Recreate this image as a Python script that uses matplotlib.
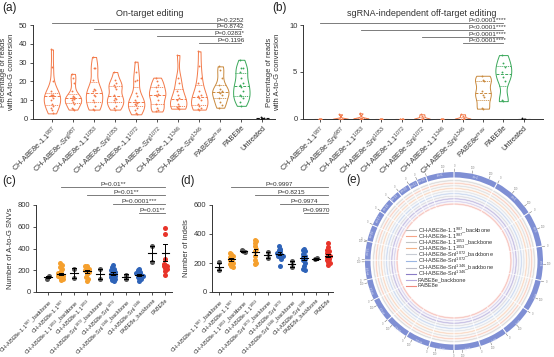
import numpy as np
import matplotlib
matplotlib.use("Agg")
import matplotlib.pyplot as plt

plt.rcParams['font.family'] = 'Liberation Sans'
plt.rcParams['mathtext.fontset'] = 'custom'
plt.rcParams['mathtext.rm'] = 'Liberation Sans'
plt.rcParams['mathtext.it'] = 'Liberation Sans:italic'
plt.rcParams['axes.linewidth'] = 0.7

############# DATA ###############

# panel a / b  (violins)
ab_labels = ['CH-ABE8e-1.1$^{987}$', 'CH-ABE8e-SnI$^{987}$', 'CH-ABE8e-1.1$^{1053}$', 'CH-ABE8e-SnI$^{1053}$',
             'CH-ABE8e-1.1$^{1072}$', 'CH-ABE8e-SnI$^{1072}$', 'CH-ABE8e-1.1$^{1346}$', 'CH-ABE8e-SnI$^{1346}$',
             'PABE8e$^{max}$', 'PABE8e', 'Untreated']

on_target = [
    [37, 27.5, 20, 15, 13, 13, 12.5, 12, 11, 10, 8, 7, 6, 5, 3],
    [24, 22, 19, 15, 12, 11.5, 11, 11, 10.5, 10, 9, 8, 6, 5.5, 5],
    [33, 27, 27, 21, 16, 15.5, 15, 13, 12, 10, 9, 7, 5.5, 5],
    [25, 21, 19, 18, 17, 16, 13, 11, 10.5, 10, 9, 7, 6, 5],
    [30.5, 25, 21, 20, 14, 12, 10, 9, 8.5, 8, 7.5, 6, 5, 3, 2.5],
    [22, 20, 18, 17, 15, 13.5, 13, 12, 10, 8, 6, 5, 4],
    [34, 22, 19, 15, 13, 11, 10, 8, 7, 6.5, 6, 5.5],
    [36, 28, 22, 19, 15, 13, 12, 11, 10, 8, 7, 6, 5.5, 5],
    [28, 26, 22, 18, 16, 15, 14.5, 14, 13, 11, 9, 7.5, 6],
    [31.5, 27, 27, 25, 22, 19, 18, 17, 15, 13, 12, 11, 9, 7],
    [0.8, 0.5, 0.3, 0.2, 0.1],
]

off_target = [
    [0, 0, 0, 0, 0, 0],
    [0.5, 0, 0, 0, 0, 0],
    [0.6, 0.1, 0, 0, 0, 0],
    [0, 0, 0, 0, 0, 0],
    [0, 0, 0, 0, 0, 0],
    [0.5, 0.3, 0.1, 0, 0, 0],
    [0, 0, 0, 0, 0, 0],
    [0.5, 0.3, 0.1, 0, 0, 0],
    [4.6, 4.2, 4.0, 3.0, 2.6, 2.3, 1.2, 1.1],
    [6.8, 6.0, 5.5, 5.0, 4.5, 4.0, 2.0, 1.9],
    [0.1, 0.05, 0, 0],
]

a_pvals = ['P=0.2252', 'P=0.8742', 'P=0.0283*', 'P=0.1196']
a_pstart = [0, 2, 5, 7]
a_plevel = [51, 47.9, 44.1, 40.4]

b_pvals = ['P<0.0001****'] * 4
b_pstart = [0, 2, 5, 7]
b_plevel = [10.2, 9.47, 8.72, 8.09]

# panel c / d  (dot plots)
cd_labels = ['CH-ABE8e-1.1$^{987}$_backbone', 'CH-ABE8e-1.1$^{987}$', 'CH-ABE8e-1.1$^{1053}$_backbone',
             'CH-ABE8e-1.1$^{1053}$', 'CH-ABE8e-SnI$^{1072}$_backbone', 'CH-ABE8e-SnI$^{1072}$',
             'CH-ABE8e-SnI$^{1346}$_backbone', 'CH-ABE8e-SnI$^{1346}$', 'PABE8e_backbone', 'PABE8e']

snv = [
    [123, 145],
    [265, 250, 230, 210, 190, 175, 165, 155, 150, 145, 140, 130, 120, 110],
    [215, 130],
    [240, 235, 225, 215, 200, 190, 180, 170, 140, 120, 100],
    [210, 120],
    [250, 230, 210, 200, 190, 180, 170, 160, 150, 140, 130, 120, 110, 100],
    [160, 115],
    [210, 200, 185, 175, 165, 160, 155, 150, 140, 130, 120, 100],
    [425, 280],
    [590, 535, 300, 260, 250, 240, 235, 225, 210, 190, 160],
]
snv_mean = [135, 165, 175, 190, 165, 170, 140, 155, 355, 362]
snv_sem = [10, 12, 42, 13, 45, 12, 22, 9, 72, 75]

indels = [
    [155, 208],
    [270, 260, 250, 240, 230, 220, 210, 200, 190, 180, 175],
    [290, 285, 275],
    [360, 350, 340, 320, 300, 280, 250, 220, 200, 190],
    [275, 235],
    [320, 300, 290, 280, 270, 265, 260, 255, 250, 245, 240, 230, 180],
    [215, 175],
    [300, 290, 280, 260, 250, 240, 230, 220, 200, 180, 160, 150],
    [225, 232],
    [335, 310, 290, 280, 270, 260, 250, 240, 230, 220, 210, 200, 185],
]
indel_mean = [175, 225, 280, 275, 255, 265, 195, 235, 228, 250]
indel_sem = [25, 10, 5, 20, 20, 10, 20, 13, 4, 12]

c_pvals = ['P=0.01**', 'P=0.01**', 'P=0.0001***', 'P=0.01**']
d_pvals = ['P=0.9997', 'P=0.8215', 'P=0.9974', 'P=0.9970']
cd_pstart = [1, 3, 5, 7]
c_plevel = [966, 892, 809, 726]
d_plevel = [724, 669, 607, 545]

# panel e  (circos)
chrom_names = ['chr1', 'chr2', 'chr3', 'chr4', 'chr5', 'chr6', 'chr7', 'chr8', 'chr9', 'chr10', 'chr11', 'chr12',
               'chr13', 'chr14', 'chr15', 'chr16', 'chr17', 'chr18', 'chr19', 'chr20', 'chr21', 'chr22', 'chrX']
chrom_sizes = [249, 242, 198, 190, 181, 171, 159, 145, 138, 134, 135, 133,
               114, 107, 102, 90, 83, 80, 59, 64, 47, 51, 156]
track_names = ['CH-ABE8e-1.1$^{987}$_backbone', 'CH-ABE8e-1.1$^{987}$', 'CH-ABE8e-1.1$^{1053}$_backbone',
               'CH-ABE8e-1.1$^{1053}$', 'CH-ABE8e-SnI$^{1072}$_backbone', 'CH-ABE8e-SnI$^{1072}$',
               'CH-ABE8e-SnI$^{1346}$_backbone', 'CH-ABE8e-SnI$^{1346}$', 'PABE8e_backbone', 'PABE8e']
track_colors = ['#b9b9b9', '#f5a488', '#c4c4c4', '#f3b48a', '#c8ccd4', '#9bb6e2',
                '#bcbcc8', '#8a7cc6', '#b4a8dc', '#f08a7e']

############# STYLE ###############

W, H = 554, 357
txt = '#333333'
c_orange_a = '#f37a4a'
c_max = '#c98a3e'
c_green = '#3aa85a'
violin_cols = [c_orange_a] * 8 + [c_max, c_green, '#111111']
dot_cols = ['#555555', '#f5a02e', '#555555', '#f5a02e', '#555555', '#2e63b8',
            '#555555', '#2e63b8', '#555555', '#e8342a']


def px_axes(l, t, r, b):
    return [l / W, 1 - b / H, (r - l) / W, (b - t) / H]


def style_axes(ax):
    for s in ['top', 'right']:
        ax.spines[s].set_visible(False)
    for s in ['left', 'bottom']:
        ax.spines[s].set_color(txt)
    ax.tick_params(length=2.5, width=0.6, colors=txt, labelsize=5.5, pad=1.5)


def violins(ax, data, cols):
    pos = np.arange(len(data))
    for i, d in enumerate(data):
        d = np.asarray(d, float)
        col = cols[i]
        if d.std() > 0.05 * (ax.get_ylim()[1] / 10):
            v = ax.violinplot([d], positions=[i], widths=0.78, showextrema=False, bw_method=0.45)
            body = v['bodies'][0]
            body.set_facecolor('white')
            body.set_edgecolor(col)
            body.set_linewidth(0.7)
            body.set_alpha(1)
            verts = body.get_paths()[0].vertices
            right = verts[verts[:, 0] >= i]
            order = np.argsort(right[:, 1])
            for q, ls in [(50, (0, (3, 1.5))), (25, (0, (1, 1))), (75, (0, (1, 1)))]:
                yq = np.percentile(d, q)
                hw = np.interp(yq, right[order, 1], right[order, 0]) - i
                ax.plot([i - hw, i + hw], [yq, yq], color=col, lw=0.7, ls=ls)
        else:
            ax.plot([i - 0.3, i + 0.3], [np.median(d)] * 2, color=col, lw=0.8, ls=(0, (3, 1.5)))
        ax.scatter(np.full(len(d), i) + ((np.arange(len(d)) % 3) - 1) * 0.06, d, s=1.8, color=col,
                   zorder=3, linewidths=0)
    ax.set_xticks(pos)


def swarm_offsets(vals, binsize, step):
    vals = np.asarray(vals, float)
    offs = np.zeros(len(vals))
    bins = np.floor(vals / binsize)
    for b in np.unique(bins):
        idx = np.where(bins == b)[0]
        k = len(idx)
        offs[idx] = (np.arange(k) - (k - 1) / 2) * step
    return offs


def dotplot(ax, data, means, sems, cols, binsize):
    for i, d in enumerate(data):
        off = swarm_offsets(d, binsize, 0.13)
        ax.scatter(i + off, d, s=13, color=cols[i], zorder=3, linewidths=0)
        ax.plot([i - 0.3, i + 0.3], [means[i]] * 2, color='black', lw=0.8, zorder=4)
        ax.plot([i, i], [means[i] - sems[i], means[i] + sems[i]], color='black', lw=0.7, zorder=4)
        for yy in [means[i] - sems[i], means[i] + sems[i]]:
            ax.plot([i - 0.15, i + 0.15], [yy, yy], color='black', lw=0.7, zorder=4)
    ax.set_xticks(np.arange(len(data)))


def sig_lines(ax, starts, end, levels, texts, centered, fs=4.6):
    for s, lv, t in zip(starts, levels, texts):
        ax.plot([s, end], [lv, lv], color='#666666', lw=0.6, clip_on=False)
        if centered:
            ax.text((s + end) / 2, lv, t, ha='center', va='bottom', fontsize=fs, color=txt, clip_on=False)
        else:
            ax.text(end + 0.15, lv, t, ha='right', va='bottom', fontsize=fs, color=txt, clip_on=False)


def xlabels(ax, labels, fs=5.3):
    ax.set_xticklabels(labels, rotation=45, ha='right', rotation_mode='anchor', fontsize=fs, color=txt)


fig = plt.figure(figsize=(W / 100, H / 100), dpi=100)

########## (a) ##########
ax = fig.add_axes(px_axes(33, 25, 275, 119))
ax.set_ylim(0, 50)
ax.set_xlim(-0.9, 10.6)
style_axes(ax)
violins(ax, on_target, violin_cols)
ax.set_yticks([0, 10, 20, 30, 40, 50])
xlabels(ax, ab_labels)
ax.set_ylabel('Percentage of reads\nwith A-to-G conversion', fontsize=5.5, color=txt, labelpad=3, linespacing=1.1)
sig_lines(ax, a_pstart, 9, a_plevel, a_pvals, False)
fig.text(150 / W, 1 - 13 / H, 'On-target editing', ha='center', va='center', fontsize=6.5, color=txt)
fig.text(2 / W, 1 - 8 / H, '(a)', ha='left', va='center', fontsize=8.5, color='#222222')

########## (b) ##########
ax = fig.add_axes(px_axes(303, 25, 543, 119))
ax.set_ylim(0, 10)
ax.set_xlim(-0.84, 10.95)
style_axes(ax)
violins(ax, off_target, violin_cols)
ax.set_yticks([0, 5, 10])
xlabels(ax, ab_labels)
ax.set_ylabel('Percentage of reads\nwith A-to-G conversion', fontsize=5.5, color=txt, labelpad=6, linespacing=1.1)
sig_lines(ax, b_pstart, 9, b_plevel, b_pvals, False)
fig.text(422 / W, 1 - 13 / H, 'sgRNA-independent off-target editing', ha='center', va='center', fontsize=6.5, color=txt)
fig.text(272 / W, 1 - 8 / H, '(b)', ha='left', va='center', fontsize=8.5, color='#222222')

########## (c) ##########
ax = fig.add_axes(px_axes(36, 205, 172, 292))
ax.set_ylim(0, 800)
ax.set_xlim(-0.9, 9.5)
style_axes(ax)
dotplot(ax, snv, snv_mean, snv_sem, dot_cols, 30)
ax.set_yticks([0, 200, 400, 600, 800])
xlabels(ax, cd_labels, fs=4.0)
ax.set_ylabel('Number of A-to-G SNVs', fontsize=5.5, color=txt, labelpad=3)
sig_lines(ax, cd_pstart, 9, c_plevel, c_pvals, True)
fig.text(2 / W, 1 - 181 / H, '(c)', ha='left', va='center', fontsize=8.5, color='#222222')

########## (d) ##########
ax = fig.add_axes(px_axes(212, 205, 333, 292))
ax.set_ylim(0, 600)
ax.set_xlim(-0.58, 9.4)
style_axes(ax)
dotplot(ax, indels, indel_mean, indel_sem, dot_cols, 25)
ax.set_yticks([0, 200, 400, 600])
xlabels(ax, cd_labels, fs=4.0)
ax.set_ylabel('Number of indels', fontsize=5.5, color=txt, labelpad=3)
sig_lines(ax, cd_pstart, 9, d_plevel, d_pvals, True)
fig.text(180 / W, 1 - 181 / H, '(d)', ha='left', va='center', fontsize=8.5, color='#222222')

########## (e) ##########
cx, cy, R = 454, 261, 100
pax = fig.add_axes(px_axes(cx - R, cy - R, cx + R, cy + R), projection='polar')
pax.set_theta_offset(np.pi / 2)
pax.set_theta_direction(-1)
pax.set_ylim(0, 1)
pax.axis('off')

sizes = np.array(chrom_sizes, float)
gap = 0.012
span_total = 2 * np.pi - gap * len(sizes)
spans = sizes / sizes.sum() * span_total
starts = np.concatenate([[0], np.cumsum(spans + gap)[:-1]]) + gap / 2
centers = starts + spans / 2
pax.bar(centers, 0.055, width=spans, bottom=0.835, color='#7f8fd4', edgecolor='none')
for st, sp, nm, sz in zip(starts, spans, chrom_names, sizes):
    pax.text(st + sp / 2, 0.862, nm, fontsize=2.3, color='#dde2f5', ha='center', va='center',
             rotation=-np.degrees(st + sp / 2), rotation_mode='anchor')
    for k in np.arange(0, sz, 100):
        th = st + k / sz * sp
        pax.plot([th, th], [0.895, 0.92], color='#666666', lw=0.35)
        pax.text(th, 0.95, str(int(k)), fontsize=1.8, color='#888888', ha='center', va='center')

r_top = 0.82
tw = 0.026
for j, col in enumerate(track_colors):
    r0 = r_top - (j + 1) * tw
    pax.bar(centers, tw * 0.8, width=spans, bottom=r0, color=col, alpha=0.22, edgecolor='none')
    pax.bar(centers, tw * 0.15, width=spans, bottom=r0 + tw * 0.3, color=col, alpha=0.7, edgecolor='none')

for j, (nm, col) in enumerate(zip(track_names, track_colors)):
    yy = 230 + j * 6.1 + (1 if j >= 6 else 0)
    fig.lines.append(plt.Line2D([406 / W, 416 / W], [1 - yy / H] * 2, color=col, lw=0.8, transform=fig.transFigure))
    fig.text(418 / W, 1 - yy / H, nm, fontsize=4.1, color='#333333', ha='left', va='center')

fig.text(346 / W, 1 - 180 / H, '(e)', ha='left', va='center', fontsize=8.5, color='#222222')

plt.savefig('out.png', dpi=100)
plt.close()
